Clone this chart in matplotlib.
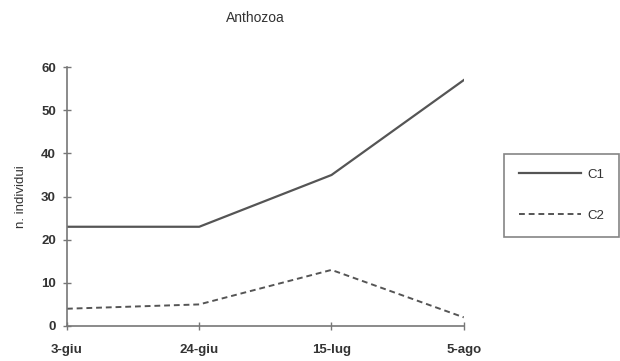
import matplotlib.pyplot as plt
import numpy as np

plt.rcParams["font.family"] = ["Liberation Sans", "DejaVu Sans"]

dates = ["3-giu", "24-giu", "15-lug", "5-ago"]
c1 = [23, 23, 35, 57]
c2 = [4, 5, 13, 2]

x = np.arange(len(dates))
grey = "#555555"
txt = "#333333"

fig = plt.figure(figsize=(6.2, 3.61), dpi=100)
ax = fig.add_axes([0.108, 0.097, 0.64, 0.717])

ax.plot(x, c1, color=grey, lw=1.6, label="C1")
ax.plot(x, c2, color=grey, lw=1.4, ls=(0, (3, 2)), label="C2")

ax.set_xlim(0, 3)
ax.set_ylim(0, 60)
ax.set_yticks(range(0, 61, 10))
ax.set_xticks(x)
ax.set_xticklabels(dates)
ax.tick_params(direction="inout", length=6, width=1, color="#777777",
               labelsize=9.5, labelcolor=txt)
ax.tick_params(axis="x", pad=10)
ax.tick_params(axis="y", pad=5)
for s in ["top", "right"]:
    ax.spines[s].set_visible(False)
for s in ["left", "bottom"]:
    ax.spines[s].set_color("#777777")
    ax.spines[s].set_linewidth(1.2)
for lbl in ax.get_xticklabels() + ax.get_yticklabels():
    lbl.set_fontweight("bold")

fig.text(21 / 620, 1 - 197 / 361, "n. individui", rotation=90, fontsize=9.5,
         color=txt, ha="center", va="center")
fig.text(255 / 620, 1 - 18 / 361, "Anthozoa", fontsize=10, color=txt,
         ha="center", va="center")

leg = fig.legend(loc="upper left", bbox_to_anchor=(504 / 620, 1 - 154 / 361),
                 frameon=True, fancybox=False, edgecolor="#666666", fontsize=9.5,
                 handlelength=4.7, handletextpad=0.5, labelspacing=2.2,
                 borderpad=1.1, borderaxespad=0)
leg.get_frame().set_linewidth(1.2)
for t in leg.get_texts():
    t.set_color(txt)

fig.savefig("out.png", dpi=100)
